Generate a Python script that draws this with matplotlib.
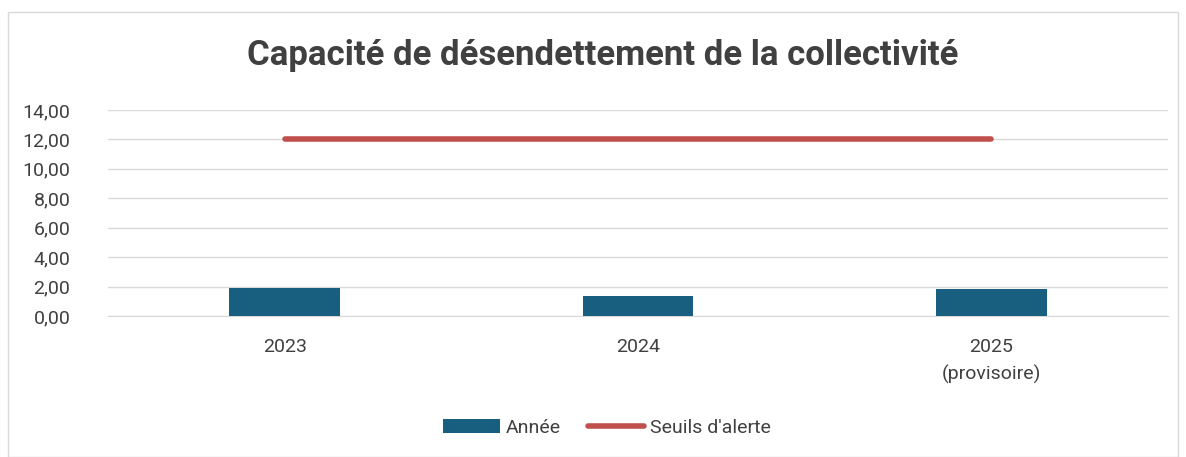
import matplotlib.pyplot as plt
from matplotlib.patches import Rectangle

plt.rcParams['font.family'] = ['Roboto', 'DejaVu Sans']

categories = ["2023", "2024", "2025\n(provisoire)"]
annee = [1.89, 1.36, 1.84]
seuils = [12.0, 12.0, 12.0]
yticks = [0, 2, 4, 6, 8, 10, 12, 14]
ytick_labels = ["0,00", "2,00", "4,00", "6,00", "8,00", "10,00", "12,00", "14,00"]

fig = plt.figure(figsize=(11.86, 4.57), dpi=100)
fig.patches.append(Rectangle((8 / 1186, 0), 1 - 16 / 1186, 1 - 12 / 457,
                             transform=fig.transFigure, fill=False,
                             edgecolor='#d9d9d9', linewidth=1))
ax = fig.add_axes([108 / 1186, 1 - 316 / 457, 1060 / 1186, 206 / 457])

x = range(len(categories))
bars = ax.bar(x, annee, width=0.314, color='#175E7F', label="Année", zorder=3)
line, = ax.plot(x, seuils, color='#C0504D', linewidth=4, solid_capstyle='round',
                label="Seuils d'alerte", zorder=4)

ax.set_xlim(-0.5, 2.5)
ax.set_ylim(0, 14)
ax.set_yticks(yticks)
ax.set_yticklabels(ytick_labels)
ax.set_xticks(list(x))
ax.set_xticklabels(categories, linespacing=1.6)
ax.grid(axis='y', color='#d9d9d9', linewidth=1, zorder=0)
for s in ax.spines.values():
    s.set_visible(False)
ax.spines['bottom'].set_visible(True)
ax.spines['bottom'].set_color('#d9d9d9')
ax.tick_params(axis='both', length=0, labelsize=14, colors='#404040')
ax.tick_params(axis='x', pad=16)
ax.tick_params(axis='y', pad=27)

fig.text(0.5 + 10 / 1186, 1 - 55 / 457, "Capacité de désendettement de la collectivité",
         ha='center', va='center', fontsize=25, fontweight='bold', color='#404040')

fig.legend([bars, line], ["Année", "Seuils d'alerte"], loc='center',
           bbox_to_anchor=(607 / 1186, 1 - 428 / 457), ncol=2,
           frameon=False, fontsize=14, handlelength=2.9, handleheight=0.7,
           columnspacing=1.4, handletextpad=0.3, labelcolor='#404040')

fig.savefig("out.png", dpi=100)
